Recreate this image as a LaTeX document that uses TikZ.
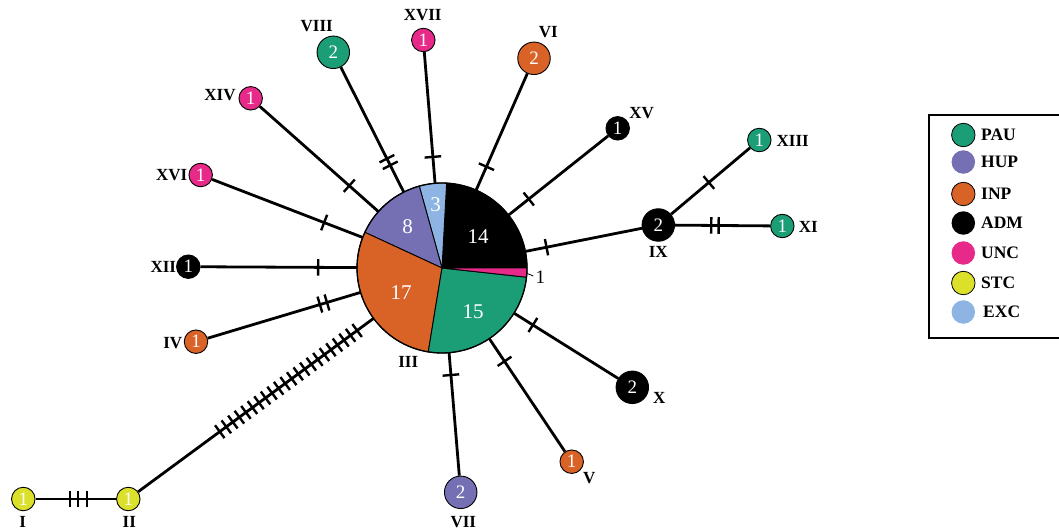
\documentclass[tikz,border=0pt]{standalone}
\usepackage{fontspec}
\setmainfont{Liberation Serif}
\usetikzlibrary{decorations.markings}
\definecolor{pau}{RGB}{27,157,118}
\definecolor{hup}{RGB}{117,112,179}
\definecolor{inp}{RGB}{217,98,38}
\definecolor{unc}{RGB}{231,41,138}
\definecolor{stc}{RGB}{219,224,43}
\definecolor{exc}{RGB}{141,180,226}
\tikzset{
  hap/.style={circle, draw=black, line width=0.9pt, minimum size=23.5pt, inner sep=0pt, text=white, font=\fontsize{19}{19}\selectfont},
  bighap/.style={hap, minimum size=32.5pt},
  lab/.style={font=\bfseries\fontsize{17}{17}\selectfont, text=black, inner sep=0pt},
  legtext/.style={font=\bfseries\fontsize{17.5}{17.5}\selectfont, text=black, inner sep=0pt, anchor=west},
  pienum/.style={font=\fontsize{21}{21}\selectfont, text=white, inner sep=0pt},
  conn/.style={line width=2.8pt},
  tone/.style={postaction={decorate, decoration={markings, mark=at position #1 with {\draw[line width=2.4pt] (0,-8.3pt) -- (0,8.3pt);}}}},
  ttwo/.style={postaction={decorate, decoration={markings, mark=at position #1 with {\draw[line width=2.4pt] (-3.7pt,-8.3pt) -- (-3.7pt,8.3pt) (3.7pt,-8.3pt) -- (3.7pt,8.3pt);}}}},
  tthree/.style={postaction={decorate, decoration={markings, mark=at position #1 with {\draw[line width=2.4pt] (-8.5pt,-8.3pt) -- (-8.5pt,8.3pt) (0,-8.3pt) -- (0,8.3pt) (8.5pt,-8.3pt) -- (8.5pt,8.3pt);}}}},
  tmany/.style={postaction={decorate, decoration={markings, mark=between positions 0.347 and 0.935 step 0.0278 with {\draw[line width=2.4pt] (0,-8pt) -- (0,8pt);}}}},
  slice/.style={draw=black, line width=0.9pt},
}
\begin{document}
\begin{tikzpicture}[x=1pt,y=-1pt]
\useasboundingbox (0,0) rectangle (1059,530);
% pie anchor
\node[circle, minimum size=170pt, inner sep=0pt] (pie) at (442,268) {};
% haplotype nodes
\node[hap, fill=stc] (i) at (23.3,499) {1};
\node[hap, fill=stc] (ii) at (128.3,499) {1};
\node[hap, fill=inp] (iv) at (196,341.7) {1};
\node[hap, fill=black] (xii) at (188.3,266.7) {1};
\node[hap, fill=unc] (xvi) at (200.7,175) {1};
\node[hap, fill=unc] (xiv) at (250.7,98.3) {1};
\node[bighap, fill=pau] (viii) at (333.3,52.3) {2};
\node[hap, fill=unc] (xvii) at (423.3,40) {1};
\node[bighap, fill=inp] (vi) at (534,58.3) {2};
\node[hap, fill=black] (xv) at (617.7,128.3) {1};
\node[bighap, fill=black] (ix) at (658.3,225) {2};
\node[hap, fill=pau] (xiii) at (759.3,140) {1};
\node[hap, fill=pau] (xi) at (782.3,226) {1};
\node[bighap, fill=black] (x) at (632.3,387.3) {2};
\node[hap, fill=inp] (v) at (571.7,461.7) {1};
\node[bighap, fill=hup] (vii) at (460.7,492.3) {2};
% labels
\node[lab] (li) at (22.7,521.7) {I};
\node[lab] (lii) at (129.3,521.7) {II};
\node[lab] (liv) at (172.7,343.3) {IV};
\node[lab] (lxii) at (163.3,266.7) {XII};
\node[lab] (lxvi) at (171.7,175) {XVI};
\node[lab] (lxiv) at (220,95) {XIV};
\node[lab] (lviii) at (316.7,26) {VIII};
\node[lab] (lxvii) at (422.7,15) {XVII};
\node[lab] (lvi) at (548.3,32.3) {VI};
\node[lab] (lxv) at (641.7,113.3) {XV};
\node[lab] (lix) at (658.3,251.7) {IX};
\node[lab] (lxiii) at (792.7,140.7) {XIII};
\node[lab] (lxi) at (808.3,227.3) {XI};
\node[lab] (lx) at (659.3,398.3) {X};
\node[lab] (lv) at (589.3,478.3) {V};
\node[lab] (lvii) at (463.3,521.7) {VII};
\node[lab] (liii) at (408.3,361.7) {III};
% connectors
\draw[conn, tone=0.80] (xvii) -- (pie);
\draw[conn, ttwo=0.76] (viii) -- (pie);
\draw[conn, tone=0.755] (xiv) -- (pie);
\draw[conn, tone=0.745] (xvi) -- (pie);
\draw[conn, tone=0.753] (xii) -- (pie);
\draw[conn, ttwo=0.758] (iv) -- (pie);
\draw[conn, tone=0.80] (vi) -- (pie);
\draw[conn, tone=0.80] (xv) -- (pie);
\draw[conn, tone=0.82] (ix) -- (pie);
\draw[conn, tone=0.82] (x) -- (pie);
\draw[conn, tone=0.80] (v) -- (pie);
\draw[conn, tone=0.82] (vii) -- (pie);
\draw[conn, tone=0.48] (ix) -- (xiii);
\draw[conn, ttwo=0.42] (ix) -- (xi);
\draw[conn, tthree=0.53] (i) -- (ii);
\draw[conn, tmany] (ii) -- (pie);
% pie slices
\fill[black, slice] (pie.center) -- ++(0:85pt) arc[start angle=0, end angle=86.897, radius=85pt] -- cycle;
\fill[exc, slice] (pie.center) -- ++(86.897:85pt) arc[start angle=86.897, end angle=105.517, radius=85pt] -- cycle;
\fill[hup, slice] (pie.center) -- ++(105.517:85pt) arc[start angle=105.517, end angle=155.172, radius=85pt] -- cycle;
\fill[inp, slice] (pie.center) -- ++(155.172:85pt) arc[start angle=155.172, end angle=260.69, radius=85pt] -- cycle;
\fill[pau, slice] (pie.center) -- ++(260.69:85pt) arc[start angle=260.69, end angle=353.793, radius=85pt] -- cycle;
\fill[unc, slice] (pie.center) -- ++(353.793:85pt) arc[start angle=353.793, end angle=360, radius=85pt] -- cycle;
\draw[line width=1.3pt] (pie.center) circle[radius=85pt];
\node[pienum] (n3) at (435.7,205) {3};
\node[pienum] (n8) at (407.7,226.7) {8};
\node[pienum] (n14) at (478,236.7) {14};
\node[pienum] (n17) at (401,293) {17};
\node[pienum] (n15) at (473,311.7) {15};
\coordinate (lead) at (533.3,276);
\node[font=\fontsize{19}{19}\selectfont, inner sep=0pt, anchor=west] (n1) at (535.5,277.5) {1};
\draw[line width=0.8pt] (526.7,273.3) -- (lead);
% legend
\draw[line width=1.3pt] (929,115) rectangle (1075,338);
\node[circle, draw=black, line width=0.8pt, fill=pau, minimum size=23.5pt, inner sep=0pt] (c1) at (963.3,135) {};
\node[circle, fill=hup, minimum size=23.5pt, inner sep=0pt] (c2) at (963.3,162) {};
\node[circle, draw=black, line width=0.8pt, fill=inp, minimum size=23.5pt, inner sep=0pt] (c3) at (963.3,194) {};
\node[circle, fill=black, minimum size=23.5pt, inner sep=0pt] (c4) at (963.3,223) {};
\node[circle, fill=unc, minimum size=23.5pt, inner sep=0pt] (c5) at (963.3,253) {};
\node[circle, draw=black, line width=0.8pt, fill=stc, minimum size=23.5pt, inner sep=0pt] (c6) at (963.3,283) {};
\node[circle, fill=exc, minimum size=23.5pt, inner sep=0pt] (c7) at (963.3,312) {};
\node[legtext] (e1) at (981,135) {PAU};
\node[legtext] (e2) at (981,162) {HUP};
\node[legtext] (e3) at (981,194) {INP};
\node[legtext] (e4) at (981,223) {ADM};
\node[legtext] (e5) at (981,253) {UNC};
\node[legtext] (e6) at (981,283) {STC};
\node[legtext] (e7) at (983,312) {EXC};
\end{tikzpicture}
\end{document}
